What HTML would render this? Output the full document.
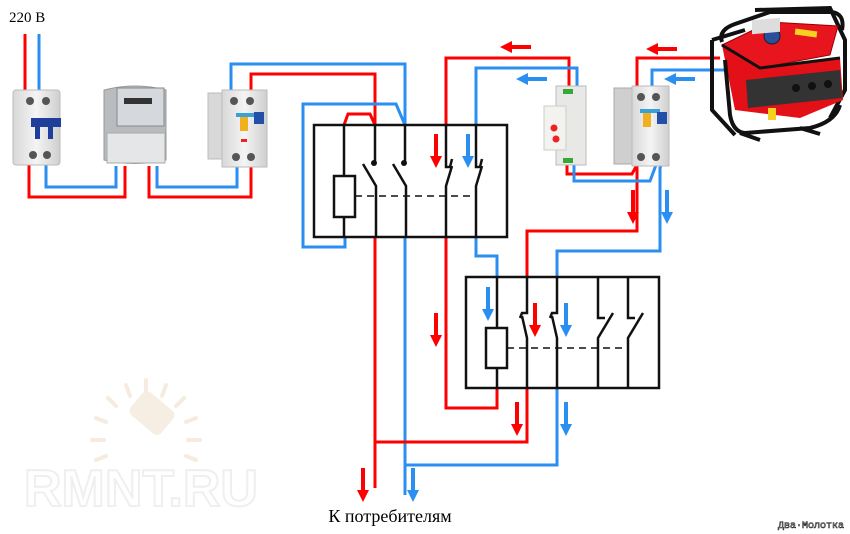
<!DOCTYPE html>
<html><head><meta charset="utf-8"><style>
html,body{margin:0;padding:0;background:#fff;width:850px;height:534px;overflow:hidden}
svg{display:block}
</style></head><body>
<svg width="850" height="534" viewBox="0 0 850 534" xmlns="http://www.w3.org/2000/svg">
<defs>
<linearGradient id="gw" x1="0" x2="1"><stop offset="0" stop-color="#d8d8d8"/><stop offset="0.5" stop-color="#f4f4f4"/><stop offset="1" stop-color="#cfcfcf"/></linearGradient>
</defs>

<!-- watermark -->
<g opacity="0.9">
<text x="24" y="506" font-family="Liberation Sans, sans-serif" font-size="52" font-weight="bold" fill="none" stroke="#eeeeee" stroke-width="2">RMNT.RU</text>
<g stroke="#f4eadc" stroke-width="4" stroke-linecap="round">
<line x1="146" y1="380" x2="146" y2="392"/><line x1="126" y1="385" x2="130" y2="396"/><line x1="166" y1="385" x2="162" y2="396"/>
<line x1="108" y1="398" x2="116" y2="406"/><line x1="184" y1="398" x2="176" y2="406"/>
<line x1="96" y1="418" x2="106" y2="422"/><line x1="196" y1="418" x2="186" y2="422"/>
<line x1="92" y1="440" x2="104" y2="440"/><line x1="200" y1="440" x2="188" y2="440"/>
<line x1="96" y1="460" x2="106" y2="456"/><line x1="196" y1="460" x2="186" y2="456"/>
</g>
<rect x="132" y="398" width="40" height="30" rx="6" fill="#f6ece0" transform="rotate(40 152 413)"/>
</g>

<text x="9" y="22" font-family="Liberation Serif, serif" font-size="15" fill="#000">220 В</text>
<text x="390" y="522" text-anchor="middle" font-family="Liberation Serif, serif" font-size="18" fill="#000">К потребителям</text>
<text x="778" y="528" font-family="Liberation Mono, monospace" font-size="10" fill="#fff" stroke="#222" stroke-width="0.6">Два·Молотка</text>

<g fill="none" stroke-width="3" stroke-linejoin="miter">
<path d="M25 34 V90" stroke="#f00"/><path d="M39 34 V90" stroke="#2a8ff0"/>
<path d="M29 163 V197 H125 V166" stroke="#f00"/>
<path d="M46 163 V187 H116 V166" stroke="#2a8ff0"/>
<path d="M149 166 V197 H251 V165" stroke="#f00"/>
<path d="M157 166 V187 H237 V165" stroke="#2a8ff0"/>
<path d="M231 90 V64 H405 V125" stroke="#2a8ff0"/>
<path d="M251 90 V74 H375 V125" stroke="#f00"/>
<path d="M344 125 L348 114 H370 L375 125" stroke="#f00"/>
<path d="M345 237 V247 H303 V104 H396 L405 125" stroke="#2a8ff0"/>
<path d="M375 237 V488" stroke="#f00"/>
<path d="M405 237 V495" stroke="#2a8ff0"/>
<path d="M446 125 V58 H569 V90" stroke="#f00"/>
<path d="M476 125 V68 H577 V90" stroke="#2a8ff0"/>
<path d="M446 237 V408 H497 V388" stroke="#f00"/>
<path d="M476 237 V256 H497 V277" stroke="#2a8ff0"/>
<path d="M527 277 V231 H637 V163" stroke="#f00"/>
<path d="M557 277 V251 H660 V168 L662 162" stroke="#2a8ff0"/>
<path d="M527 388 V442 H375" stroke="#f00"/>
<path d="M557 388 V465 H405" stroke="#2a8ff0"/>
<path d="M567 162 V174 H632 L638 163" stroke="#f00"/>
<path d="M574 162 V181 H650 L656 165" stroke="#2a8ff0"/>
<path d="M637 88 V58 H720" stroke="#f00"/>
<path d="M652 88 V70 H725" stroke="#2a8ff0"/>
</g>

<g>
<path d="M434 134 h4 v22 h4 l-6 12 l-6 -12 h4z" fill="#f00"/>
<path d="M466 134 h4 v22 h4 l-6 12 l-6 -12 h4z" fill="#2a8ff0"/>
<path d="M434 313 h4 v22 h4 l-6 12 l-6 -12 h4z" fill="#f00"/>
<path d="M486 287 h4 v22 h4 l-6 12 l-6 -12 h4z" fill="#2a8ff0"/>
<path d="M533 303 h4 v22 h4 l-6 12 l-6 -12 h4z" fill="#f00"/>
<path d="M564 303 h4 v22 h4 l-6 12 l-6 -12 h4z" fill="#2a8ff0"/>
<path d="M515 402 h4 v22 h4 l-6 12 l-6 -12 h4z" fill="#f00"/>
<path d="M564 402 h4 v22 h4 l-6 12 l-6 -12 h4z" fill="#2a8ff0"/>
<path d="M361 468 h4 v22 h4 l-6 12 l-6 -12 h4z" fill="#f00"/>
<path d="M411 468 h4 v22 h4 l-6 12 l-6 -12 h4z" fill="#2a8ff0"/>
<path d="M631 190 h4 v22 h4 l-6 12 l-6 -12 h4z" fill="#f00"/>
<path d="M665 190 h4 v22 h4 l-6 12 l-6 -12 h4z" fill="#2a8ff0"/>
<path d="M531 45 v4 h-19 v4 l-12 -6 l12 -6 v4z" fill="#f00"/>
<path d="M547 77 v4 h-19 v4 l-12 -6 l12 -6 v4z" fill="#2a8ff0"/>
<path d="M677 47 v4 h-19 v4 l-12 -6 l12 -6 v4z" fill="#f00"/>
<path d="M695 77 v4 h-19 v4 l-12 -6 l12 -6 v4z" fill="#2a8ff0"/>
</g>

<g fill="none" stroke="#111" stroke-width="2.5">
<rect x="314" y="125" width="193" height="112"/>
<rect x="334" y="176" width="21" height="41"/>
<path d="M344 125 V176 M344 217 V237"/>
<path d="M375 125 V163 M363 164 L376 186 V237"/>
<path d="M405 125 V163 M393 164 L406 186 V237"/>
<path d="M446 125 V167 H450 L452 159 M452 166 L446 186 V237"/>
<path d="M476 125 V167 H480 L482 159 M482 166 L476 186 V237"/>
<path d="M355 196 H476" stroke-dasharray="7 5" stroke-width="1.5"/>
<rect x="466" y="277" width="193" height="111"/>
<rect x="486" y="328" width="21" height="40"/>
<path d="M497 277 V328 M497 368 V388"/>
<path d="M527 277 V313 H522 L520 318 M522 316 L527 338 V388"/>
<path d="M557 277 V313 H552 L550 318 M552 316 L557 338 V388"/>
<path d="M598 277 V318 H605 M613 313 L598 338 V388"/>
<path d="M628 277 V318 H635 M643 313 L628 338 V388"/>
<path d="M507 348 H628" stroke-dasharray="7 5" stroke-width="1.5"/>
</g>
<g fill="#111"><circle cx="374" cy="163" r="3"/><circle cx="404" cy="163" r="3"/></g>

<!-- breaker 1 -->
<g>
<rect x="13" y="90" width="47" height="75" rx="3" fill="url(#gw)" stroke="#bbb"/>
<circle cx="30" cy="101" r="4" fill="#555"/><circle cx="46" cy="101" r="4" fill="#555"/>
<rect x="31" y="118" width="30" height="9" fill="#1f3f9a"/>
<rect x="35" y="127" width="5" height="12" fill="#1f3f9a"/><rect x="48" y="127" width="5" height="12" fill="#1f3f9a"/>
<circle cx="33" cy="155" r="4" fill="#555"/><circle cx="47" cy="155" r="4" fill="#555"/>
</g>
<!-- meter -->
<g>
<path d="M104 90 Q135 82 166 90 V160 Q135 167 104 160Z" fill="#b9bcbf" stroke="#999"/>
<rect x="117" y="88" width="47" height="38" fill="#d5d8dc" stroke="#888"/>
<rect x="124" y="98" width="28" height="6" fill="#333"/>
<rect x="107" y="133" width="58" height="30" fill="#e4e6e8" stroke="#aaa"/>
</g>
<!-- RCD 1 -->
<g>
<rect x="208" y="93" width="16" height="66" fill="#d8d8d8" stroke="#bbb"/>
<rect x="222" y="90" width="45" height="77" fill="url(#gw)" stroke="#bbb"/>
<circle cx="234" cy="101" r="4" fill="#555"/><circle cx="250" cy="101" r="4" fill="#555"/>
<rect x="236" y="113" width="18" height="4" fill="#3aa0d8"/>
<rect x="240" y="117" width="8" height="14" fill="#f0b020"/>
<rect x="254" y="112" width="10" height="12" fill="#224fa8"/>
<rect x="241" y="139" width="6" height="3" fill="#e22"/>
<circle cx="236" cy="157" r="4" fill="#555"/><circle cx="251" cy="157" r="4" fill="#555"/>
</g>
<!-- relay -->
<g>
<rect x="556" y="86" width="30" height="79" fill="#e8e8e6" stroke="#bbb"/>
<rect x="544" y="106" width="22" height="44" fill="#f2f2ef" stroke="#ccc"/>
<rect x="563" y="89" width="10" height="5" fill="#3a3"/><rect x="563" y="158" width="10" height="5" fill="#3a3"/>
<circle cx="554" cy="128" r="3.5" fill="#e22"/><circle cx="556" cy="139" r="3.5" fill="#e22"/>
</g>
<!-- RCD 2 -->
<g>
<rect x="614" y="88" width="24" height="76" fill="#cfcfcf" stroke="#aaa"/>
<rect x="632" y="86" width="37" height="80" fill="url(#gw)" stroke="#bbb"/>
<circle cx="641" cy="97" r="4" fill="#555"/><circle cx="656" cy="97" r="4" fill="#555"/>
<rect x="640" y="109" width="20" height="4" fill="#3aa0d8"/>
<rect x="643" y="113" width="8" height="14" fill="#f0b020"/>
<rect x="657" y="112" width="10" height="12" fill="#224fa8"/>
<circle cx="641" cy="157" r="4" fill="#555"/><circle cx="656" cy="157" r="4" fill="#555"/>
</g>
<!-- generator -->
<g>
<!-- back frame tubes -->
<path d="M712 40 L712 110 L735 135 M712 40 L745 30 M755 10 L830 8 L845 40 L845 90 L830 118" fill="none" stroke="#111" stroke-width="4"/>
<!-- tank top -->
<path d="M722 45 L770 22 L838 26 L830 55 L760 68Z" fill="#e8141e" stroke="#900" stroke-width="1"/>
<circle cx="772" cy="36" r="8" fill="#2c4f9a" stroke="#123" stroke-width="1"/>
<rect x="795" y="30" width="22" height="6" fill="#f5d21f" transform="rotate(8 806 33)"/>
<!-- front body -->
<path d="M722 45 L760 68 L840 58 L843 100 L800 118 L735 110Z" fill="#e31017"/>
<path d="M746 80 L840 70 L842 98 L748 108Z" fill="#333"/>
<rect x="752" y="86" width="28" height="14" fill="#ddd" transform="skewY(-5)"/>
<circle cx="796" cy="88" r="4" fill="#111"/><circle cx="812" cy="86" r="4" fill="#111"/><circle cx="828" cy="84" r="4" fill="#111"/>
<rect x="768" y="108" width="8" height="12" fill="#f5d21f"/>
<path d="M722 45 L760 68 L840 58" fill="none" stroke="#111" stroke-width="3"/>
<!-- front frame -->
<path d="M722 42 Q718 30 735 24 L770 12 L832 12 Q845 14 842 30" fill="none" stroke="#111" stroke-width="4"/>
<path d="M725 60 L730 115 Q733 132 745 133 L810 128 Q835 122 840 105" fill="none" stroke="#111" stroke-width="4"/>
<path d="M740 133 L760 140 M800 128 L820 134" stroke="#111" stroke-width="4"/>
</g>
</svg>
</body></html>
